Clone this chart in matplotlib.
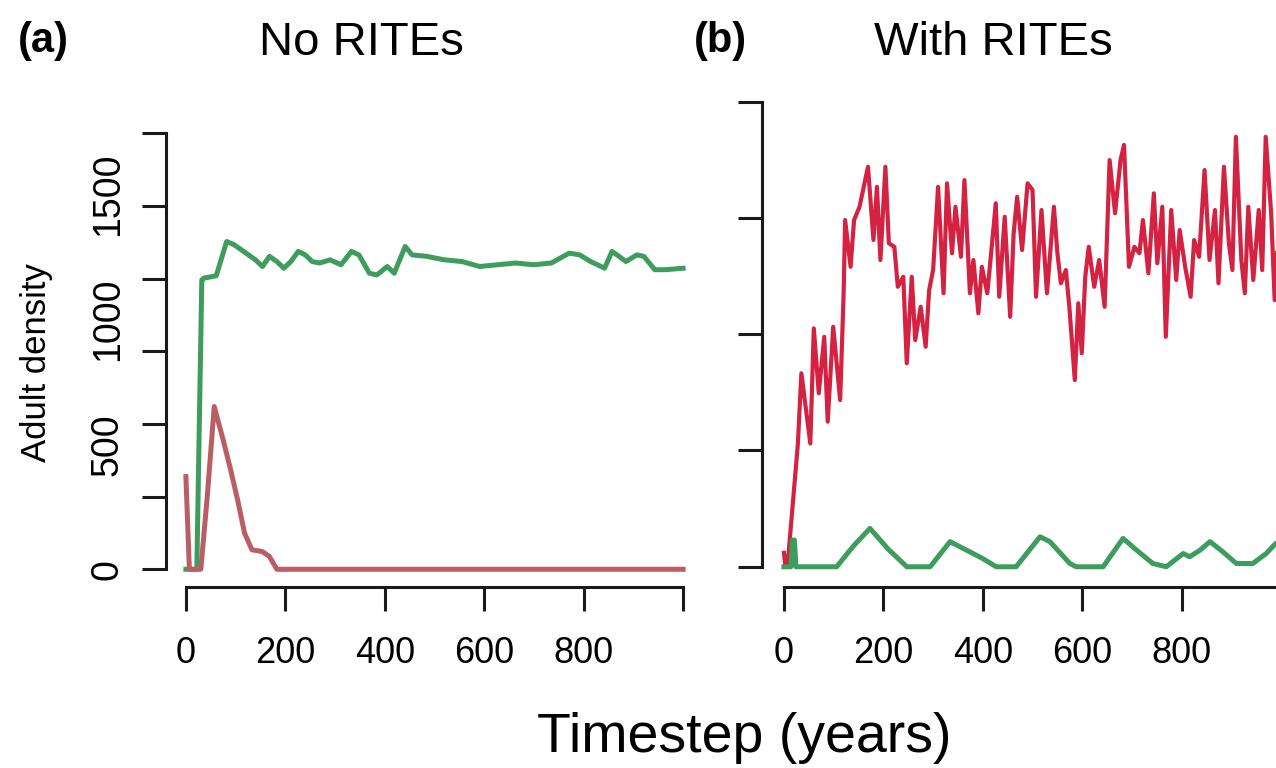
import numpy as np
import matplotlib
matplotlib.use("Agg")
import matplotlib.pyplot as plt

# ---------------- data ----------------
# Panel (a): No RITEs
a_green_x = [0, 22, 26, 32, 36, 61, 82, 97, 111, 140, 154, 168, 183, 197, 211, 226, 240, 254,
             269, 290, 312, 333, 348, 369, 384, 405, 419, 441, 455, 484, 520, 556, 591, 627,
             663, 699, 735, 771, 792, 814, 828, 842, 857, 871, 885, 907, 921, 943, 964, 1000]
a_green_y = [0, 0, 400, 996, 1002, 1010, 1128, 1117, 1100, 1065, 1042, 1077, 1059, 1036, 1059,
             1094, 1082, 1059, 1054, 1065, 1048, 1094, 1082, 1019, 1013, 1042, 1019, 1111, 1082,
             1077, 1065, 1059, 1042, 1048, 1054, 1048, 1054, 1088, 1082, 1059, 1048, 1036, 1094,
             1077, 1059, 1082, 1077, 1031, 1031, 1036]

a_red_x = [0, 7, 30, 43, 57, 75, 90, 104, 118, 133, 154, 168, 183, 1000]
a_red_y = [319, 0, 0, 250, 560, 445, 342, 239, 124, 67, 61, 44, 0, 0]

# Panel (b): With RITEs
b_red_x = [0, 3, 7, 28, 35, 53, 60, 70, 81, 88, 99, 113, 120, 123, 134, 141, 152, 169, 180, 187,
           194, 204, 211, 222, 229, 240, 247, 257, 264, 275, 285, 292, 300, 310, 321, 328, 338,
           345, 356, 363, 374, 381, 391, 398, 409, 416, 426, 433, 444, 455, 462, 469, 479, 490,
           500, 507, 518, 529, 536, 543, 550, 557, 567, 574, 585, 592, 599, 606, 613, 624, 634,
           645, 655, 666, 677, 684, 694, 705, 715, 722, 733, 744, 751, 761, 768, 779, 789, 796,
           807, 818, 825, 835, 846, 856, 867, 874, 885, 895, 902, 909, 920, 927, 934, 944, 955,
           962, 969, 980, 987, 996, 1000]
b_red_y = [60, 0, 0, 530, 832, 530, 1025, 746, 989, 624, 1032, 717, 1176, 1491, 1290, 1491,
           1548, 1720, 1405, 1634, 1319, 1720, 1391, 1376, 1204, 1247, 875, 1247, 975, 1118, 946,
           1190, 1276, 1634, 1176, 1649, 1348, 1548, 1333, 1663, 1176, 1319, 1090, 1290, 1176,
           1333, 1563, 1161, 1505, 1075, 1434, 1591, 1362, 1649, 1620, 1161, 1534, 1176, 1362,
           1548, 1348, 1219, 1276, 1118, 803, 1133, 918, 1247, 1376, 1204, 1319, 1118, 1749, 1520,
           1749, 1814, 1290, 1376, 1348, 1491, 1262, 1606, 1305, 1548, 989, 1534, 1233, 1448,
           1290, 1161, 1405, 1333, 1706, 1319, 1534, 1219, 1720, 1391, 1276, 1849, 1319, 1176,
           1548, 1233, 1534, 1276, 1849, 1520, 1147, 1534, 1400]

b_green_x = [0, 14, 17, 21, 24, 106, 140, 173, 210, 247, 294, 334, 354, 374, 400, 427, 467, 515,
             535, 575, 588, 642, 682, 709, 742, 769, 803, 816, 836, 857, 883, 910, 943, 970, 989, 1000]
b_green_y = [0, 0, 115, 115, 0, 0, 90, 165, 75, 0, 0, 108, 86, 64, 35, 0, 0, 129, 108, 14, 0, 0,
             122, 72, 14, 0, 57, 43, 70, 108, 64, 14, 14, 57, 100, 110]

x_ticks = [0, 200, 400, 600, 800, 1000]
x_tick_labels = ["0", "200", "400", "600", "800", ""]
a_y_ticks = [0, 250, 500, 750, 1000, 1250, 1500]
a_y_label_values = [0, 500, 1000, 1500]
a_y_label_scale = 1.1637   # printed labels sit off the tick marks in the original
b_y_ticks = [0, 500, 1000, 1500, 2000]

# ---------------- styling ----------------
plt.rcParams["font.family"] = ["Liberation Sans", "DejaVu Sans"]
GREEN = "#3e9d5c"
RED_A = "#b95e64"
RED_B = "#d42242"
INK = "#1a1a1a"

W, H = 1276, 768
fig = plt.figure(figsize=(W / 100, H / 100), dpi=100)


def px_axes(left, right, top, bottom):
    return fig.add_axes([left / W, 1 - bottom / H, (right - left) / W, (bottom - top) / H])


def style(ax, ybounds):
    for s in ("top", "right"):
        ax.spines[s].set_visible(False)
    for s in ("left", "bottom"):
        ax.spines[s].set_linewidth(2.2)
        ax.spines[s].set_color(INK)
    ax.spines["left"].set_bounds(*ybounds)
    ax.spines["bottom"].set_bounds(0, 1000)
    ax.set_xticks(x_ticks)
    ax.set_xticklabels(x_tick_labels)
    ax.tick_params(axis="both", direction="out", length=17, width=2.2, color=INK)
    ax.tick_params(axis="x", labelsize=26, pad=18)
    ax.tick_params(axis="y", labelleft=False)
    ax.patch.set_alpha(0)


# Panel (a)
axa = px_axes(166, 703, 116, 587)
axa.set_xlim(-40, 1040)
axa.set_ylim(-61, 1560)
axa.plot(a_green_x, a_green_y, color=GREEN, lw=3.6, solid_joinstyle="round", zorder=3)
axa.plot(a_red_x, a_red_y, color=RED_A, lw=3.6, solid_joinstyle="round", zorder=4)
axa.set_yticks(a_y_ticks)
style(axa, (0, 1500))
sec = axa.secondary_yaxis("left", functions=(lambda y: y * a_y_label_scale,
                                             lambda y: y / a_y_label_scale))
sec.spines["left"].set_visible(False)
sec.set_yticks(a_y_label_values, [str(v) for v in a_y_label_values], rotation=90, va="center")
sec.tick_params(axis="y", length=0, labelsize=27, pad=29)

# Panel (b)
axb = px_axes(762, 1301, 85.4, 587)
axb.set_xlim(-44.2, 1040)
axb.set_ylim(-87, 2070)
axb.plot(b_red_x, b_red_y, color=RED_B, lw=3.0, solid_joinstyle="round", zorder=3)
axb.plot(b_green_x, b_green_y, color=GREEN, lw=3.6, solid_joinstyle="round", zorder=4)
axb.set_yticks(b_y_ticks)
style(axb, (0, 2000))

# Text
fig.text(43 / W, 1 - 52 / H, "(a)", fontsize=30, fontweight="bold", ha="center", va="baseline")
fig.text(720 / W, 1 - 52 / H, "(b)", fontsize=30, fontweight="bold", ha="center", va="baseline")
fig.text(361 / W, 1 - 55 / H, "No RITEs", fontsize=34, ha="center", va="baseline")
fig.text(993 / W, 1 - 55 / H, "With RITEs", fontsize=34, ha="center", va="baseline")
fig.text(744 / W, 1 - 752 / H, "Timestep (years)", fontsize=40, ha="center", va="baseline")
fig.text(37 / W, 1 - 363 / H, "Adult density", fontsize=25, rotation=90, ha="center", va="center")

fig.savefig("out.png", dpi=100, facecolor="white")
